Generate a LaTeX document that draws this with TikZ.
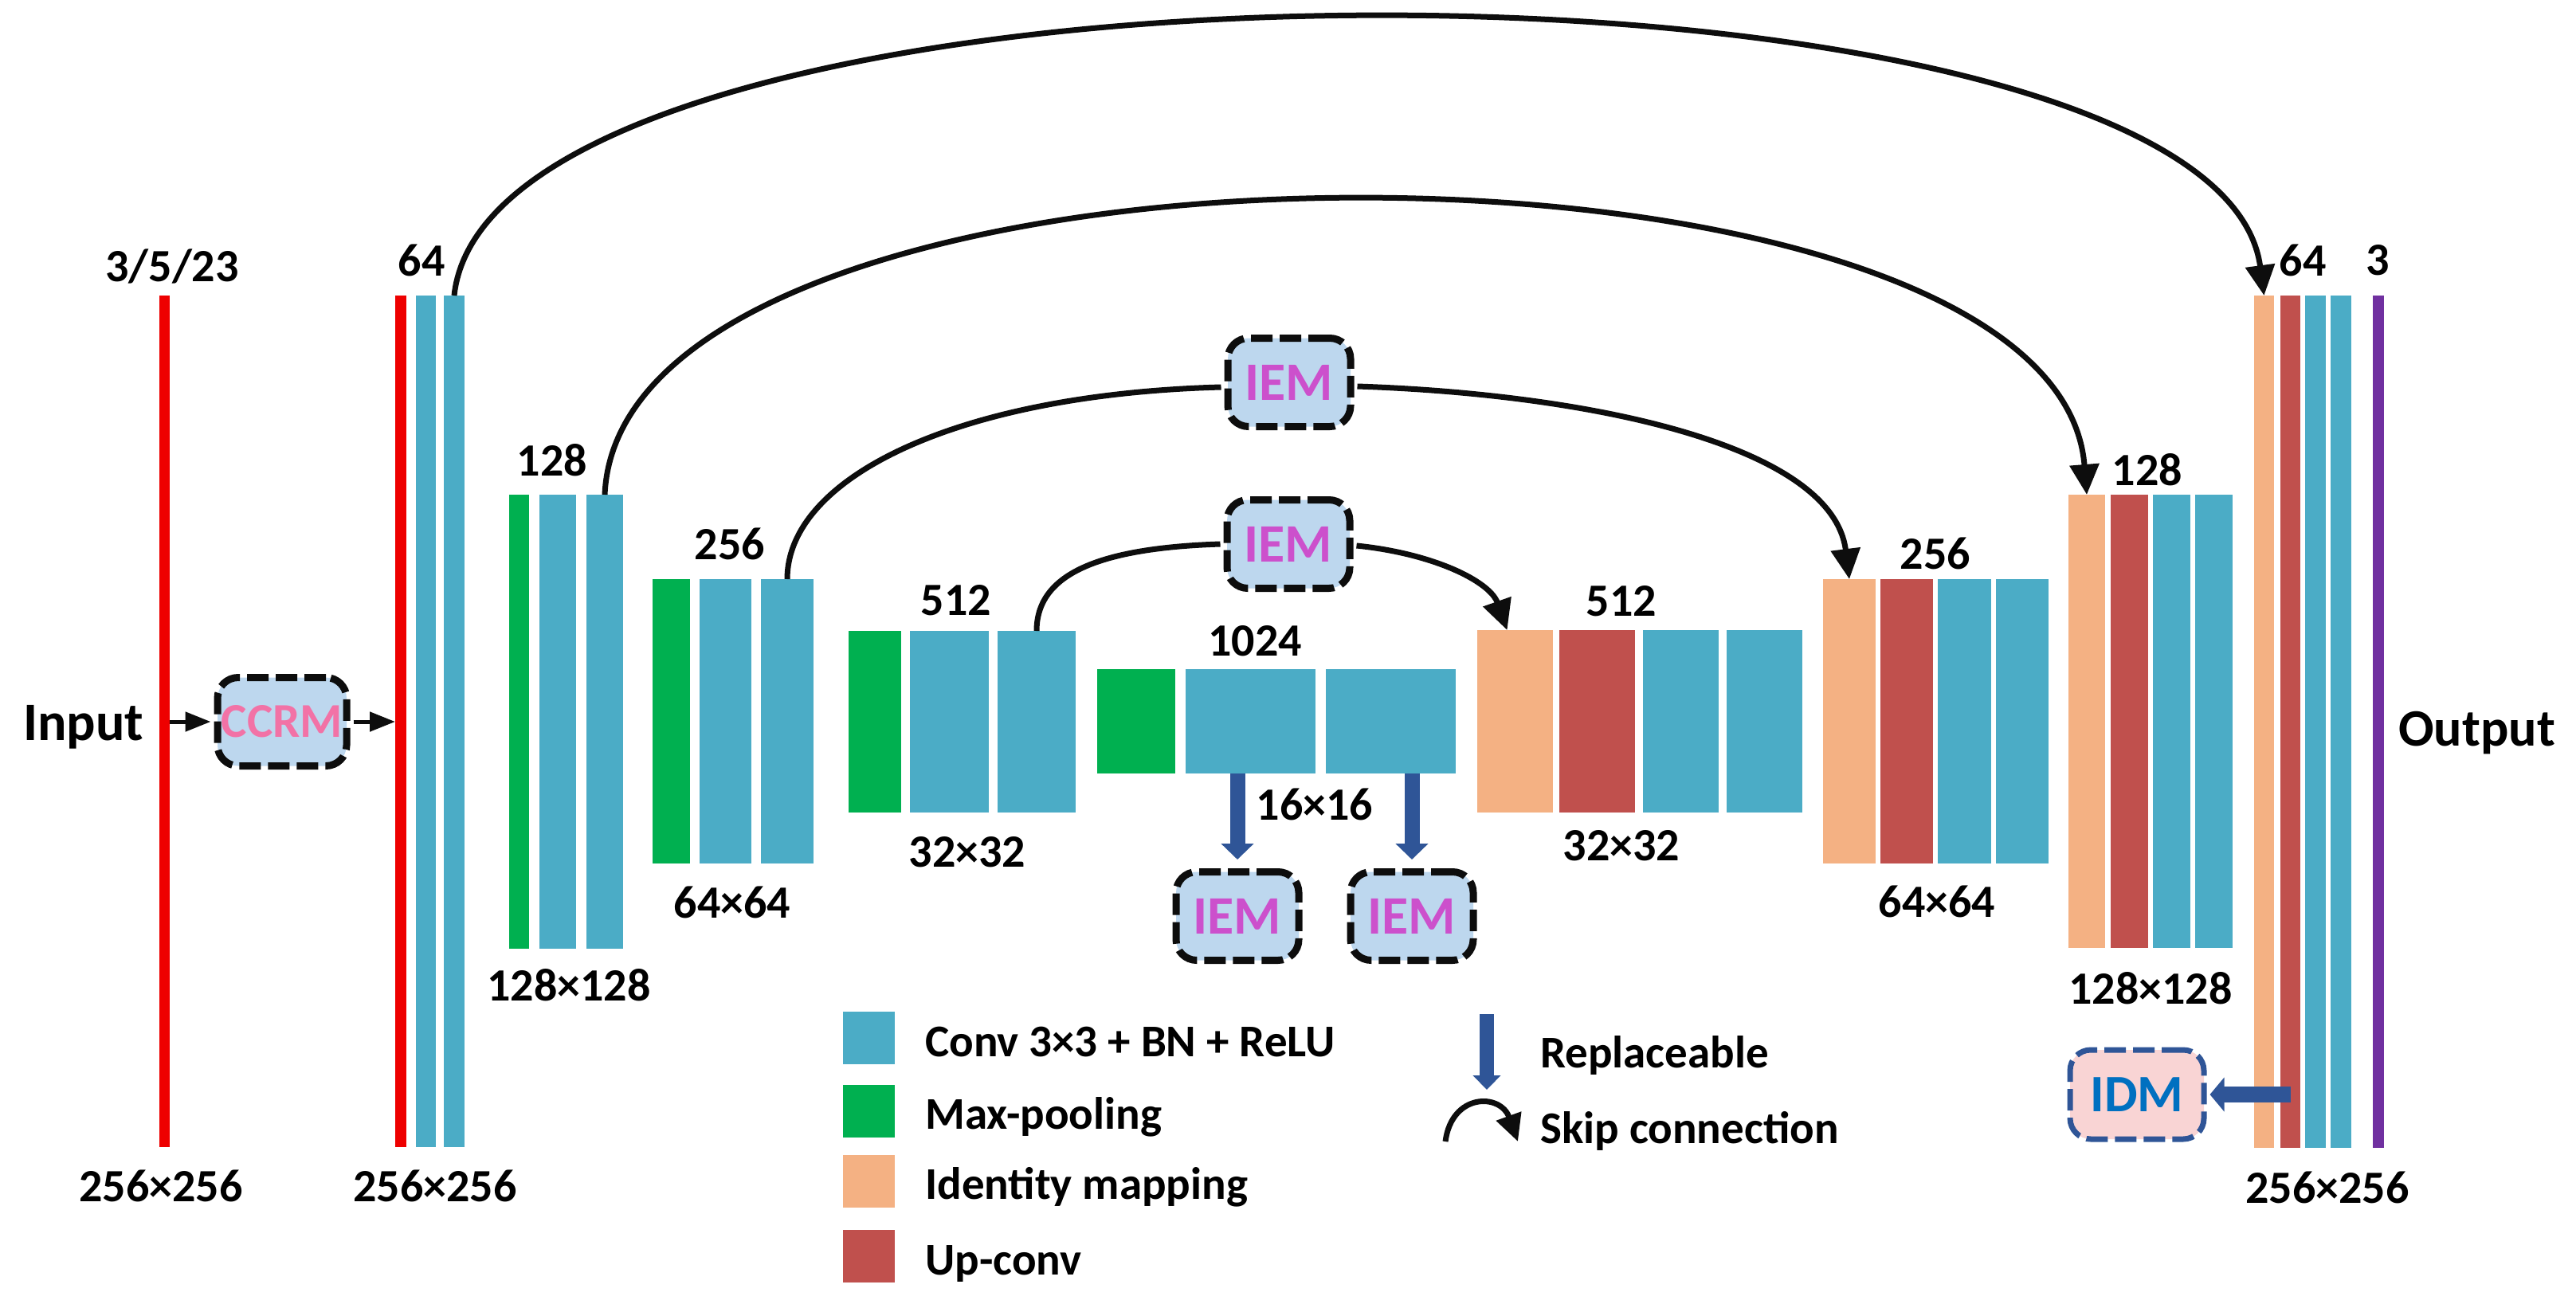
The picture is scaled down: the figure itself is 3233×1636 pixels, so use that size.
\documentclass[tikz,border=0pt]{standalone}
\usepackage{fontspec}
\setmainfont{Carlito}
\usetikzlibrary{arrows.meta,fit}
\definecolor{cblue}{HTML}{4BACC6}
\definecolor{cgreen}{HTML}{00B050}
\definecolor{corange}{HTML}{F4B183}
\definecolor{cred}{HTML}{C0504D}
\definecolor{cbright}{HTML}{EE0000}
\definecolor{cpurple}{HTML}{7030A0}
\definecolor{cboxfill}{HTML}{BDD7EE}
\definecolor{ciem}{HTML}{CC50CC}
\definecolor{cccrm}{HTML}{F272A6}
\definecolor{cidmfill}{HTML}{F9D4D4}
\definecolor{cidmtext}{HTML}{0070C0}
\definecolor{cdarkblue}{HTML}{2F5597}
\definecolor{cline}{HTML}{0D0D0D}
\tikzset{
  barn/.style={inner sep=0pt, outer sep=0pt, draw=none},
  lbl/.style={inner sep=0pt, font=\fontsize{58}{70}\selectfont\bfseries, text=black},
  biglbl/.style={inner sep=0pt, anchor=base west, font=\fontsize{68}{80}\selectfont\bfseries, text=black},
  legtxt/.style={inner sep=0pt, anchor=base west, font=\fontsize{57}{68}\selectfont\bfseries, text=black},
  modbox/.style={draw=cline, line width=9pt, dash pattern=on 27pt off 9pt, rounded corners=26pt,
    fill=cboxfill, minimum width=154pt, minimum height=111pt, inner sep=0pt,
    font=\fontsize{68}{80}\selectfont\bfseries, text=ciem},
  skiparrow/.style={draw=cline, line width=7pt, -{Triangle[length=38pt,width=36pt]}},
  skipline/.style={draw=cline, line width=7pt},
  reparrow/.style={draw=cdarkblue, line width=19pt, -{Triangle[length=20pt,width=40pt]}},
  smallarrow/.style={draw=cline, line width=5pt, -{Triangle[length=32pt,width=24pt]}}
}
\begin{document}
\begin{tikzpicture}[x=1pt,y=-1pt]
\useasboundingbox[fill=white] (0,0) rectangle (3233,1636);
% ---------- encoder ----------
\node[barn, fill=cbright, fit={(200,371)(213,1440)}] (in) {};
\node[barn, fill=cbright, fit={(496,371)(510,1440)}] (e1r) {};
\node[barn, fill=cblue, fit={(522,371)(547,1440)}] (e1a) {};
\node[barn, fill=cblue, fit={(557,371)(583,1440)}] (e1b) {};
\node[barn, fill=cgreen, fit={(639,621)(664,1191)}] (e2g) {};
\node[barn, fill=cblue, fit={(677,621)(723,1191)}] (e2a) {};
\node[barn, fill=cblue, fit={(736,621)(782,1191)}] (e2b) {};
\node[barn, fill=cgreen, fit={(819,727)(866,1084)}] (e3g) {};
\node[barn, fill=cblue, fit={(878,727)(943,1084)}] (e3a) {};
\node[barn, fill=cblue, fit={(955,727)(1021,1084)}] (e3b) {};
\node[barn, fill=cgreen, fit={(1065,792)(1131,1020)}] (e4g) {};
\node[barn, fill=cblue, fit={(1142,792)(1241,1020)}] (e4a) {};
\node[barn, fill=cblue, fit={(1252,792)(1350,1020)}] (e4b) {};
\node[barn, fill=cgreen, fit={(1377,840)(1475,971)}] (bg) {};
\node[barn, fill=cblue, fit={(1488,840)(1651,971)}] (ba) {};
\node[barn, fill=cblue, fit={(1664,840)(1827,971)}] (bb) {};
% ---------- decoder ----------
\node[barn, fill=corange, fit={(1854,791)(1949,1020)}] (d4o) {};
\node[barn, fill=cred, fit={(1957,791)(2052,1020)}] (d4r) {};
\node[barn, fill=cblue, fit={(2062,791)(2157,1020)}] (d4a) {};
\node[barn, fill=cblue, fit={(2167,791)(2262,1020)}] (d4b) {};
\node[barn, fill=corange, fit={(2288,727)(2354,1084)}] (d3o) {};
\node[barn, fill=cred, fit={(2360,727)(2426,1084)}] (d3r) {};
\node[barn, fill=cblue, fit={(2432,727)(2499,1084)}] (d3a) {};
\node[barn, fill=cblue, fit={(2505,727)(2571,1084)}] (d3b) {};
\node[barn, fill=corange, fit={(2596,621)(2642,1190)}] (d2o) {};
\node[barn, fill=cred, fit={(2649,621)(2696,1190)}] (d2r) {};
\node[barn, fill=cblue, fit={(2702,621)(2749,1190)}] (d2a) {};
\node[barn, fill=cblue, fit={(2755,621)(2802,1190)}] (d2b) {};
\node[barn, fill=corange, fit={(2829,371)(2854,1441)}] (d1o) {};
\node[barn, fill=cred, fit={(2862,371)(2887,1441)}] (d1r) {};
\node[barn, fill=cblue, fit={(2893,371)(2919,1441)}] (d1a) {};
\node[barn, fill=cblue, fit={(2925,371)(2951,1441)}] (d1b) {};
\node[barn, fill=cpurple, fit={(2978,371)(2992,1441)}] (out) {};
% ---------- labels ----------
\node[lbl] (t_in) at (216,334) {3/5/23};
\node[lbl] (s_in) at (202,1489) {256×256};
\node[lbl] (t_e1) at (529,327) {64};
\node[lbl] (s_e1) at (546,1489) {256×256};
\node[lbl] (t_e2) at (693,578) {128};
\node[lbl] (s_e2) at (714,1237) {128×128};
\node[lbl] (t_e3) at (916,683) {256};
\node[lbl] (s_e3) at (919,1133) {64×64};
\node[lbl] (t_e4) at (1200,754) {512};
\node[lbl] (s_e4) at (1214,1070) {32×32};
\node[lbl] (t_b) at (1575,805) {1024};
\node[lbl] (s_b) at (1650,1010) {16×16};
\node[lbl] (t_d4) at (2035,755) {512};
\node[lbl] (s_d4) at (2035,1062) {32×32};
\node[lbl] (t_d3) at (2429,695) {256};
\node[lbl] (s_d3) at (2431,1132) {64×64};
\node[lbl] (t_d2) at (2695,590) {128};
\node[lbl] (s_d2) at (2699,1241) {128×128};
\node[lbl] (t_d1) at (2890,327) {64};
\node[lbl] (t_out) at (2984,327) {3};
\node[lbl] (s_d1) at (2921,1491) {256×256};
\node[biglbl] (inputlbl) at (29,929) {Input};
\node[biglbl, font=\fontsize{66}{78}\selectfont\bfseries] (outputlbl) at (3010,936) {Output};
% ---------- modules ----------
\node[modbox, font=\fontsize{61}{72}\selectfont\bfseries, text=cccrm, minimum width=162pt] (ccrm) at (354,906) {CCRM};
\node[modbox] (iem1) at (1618,480) {IEM};
\node[modbox] (iem2) at (1617,683) {IEM};
\node[modbox] (iem3) at (1553,1150) {IEM};
\node[modbox] (iem4) at (1772,1150) {IEM};
\node[modbox, draw=cdarkblue, line width=7pt, fill=cidmfill, text=cidmtext, minimum width=168pt, minimum height=112pt, font=\fontsize{66}{78}\selectfont\bfseries] (idm) at (2682,1374) {IDM};
% ---------- input arrows ----------
\draw[smallarrow] (in.east |- ccrm.west) -- ([xshift=-4pt]ccrm.west);
\draw[smallarrow] ([xshift=4pt]ccrm.east) -- (e1r.west |- ccrm.east);
% ---------- skip connections ----------
\draw[skiparrow] (e1b.north) .. controls (620,-92) and (2780,-92) .. (d1o.north);
\draw[skiparrow] (e2b.north) .. controls (780,130) and (2580,130) .. (d2o.north);
\draw[skipline] (e3b.north) .. controls (988,600) and (1200,495) .. ([xshift=-4pt,yshift=-6pt]iem1.west);
\draw[skiparrow] ([xshift=4pt,yshift=-5pt]iem1.east) .. controls (2000,495) and (2300,560) .. (d3o.north);
\draw[skipline] (e4b.north) .. controls (1301,720) and (1380,688) .. ([xshift=-4pt]iem2.west);
\draw[skiparrow] ([xshift=4pt,yshift=-2pt]iem2.east) .. controls (1800,695) and (1870,730) .. ([xshift=-10pt]d4o.north);
% ---------- replaceable arrows ----------
\draw[reparrow] (iem3.north |- ba.south) -- ([yshift=11pt]iem3.north);
\draw[reparrow] (iem4.north |- bb.south) -- ([yshift=11pt]iem4.north);
\draw[reparrow, line width=20pt, -{Triangle[length=18pt,width=42pt]}] (d1r.center |- idm.east) -- ([xshift=4pt]idm.east);
% ---------- legend ----------
\node[barn, fill=cblue, fit={(1058,1270)(1123,1336)}] (lg1) {};
\node[barn, fill=cgreen, fit={(1058,1362)(1123,1428)}] (lg2) {};
\node[barn, fill=corange, fit={(1058,1450)(1123,1516)}] (lg3) {};
\node[barn, fill=cred, fit={(1058,1544)(1123,1610)}] (lg4) {};
\node[legtxt] (lt1) at (1161,1326) {Conv 3×3 + BN + ReLU};
\node[legtxt] (lt2) at (1161,1417) {Max-pooling};
\node[legtxt] (lt3) at (1161,1505) {Identity mapping};
\node[legtxt] (lt4) at (1161,1600) {Up-conv};
\coordinate (rp1) at (1866,1273);
\coordinate (rp2) at (1866,1368);
\draw[reparrow, line width=18pt, -{Triangle[length=18pt,width=34pt]}] (rp1) -- (rp2);
\coordinate (sk1) at (1814,1433);
\coordinate (sk2) at (1905,1433);
\draw[draw=cline, line width=7pt, -{Triangle[length=34pt,width=32pt]}] (sk1) .. controls (1822,1372) and (1883,1372) .. (sk2);
\node[legtxt] (lt5) at (1933,1340) {Replaceable};
\node[legtxt] (lt6) at (1933,1435) {Skip connection};
\end{tikzpicture}
\end{document}
